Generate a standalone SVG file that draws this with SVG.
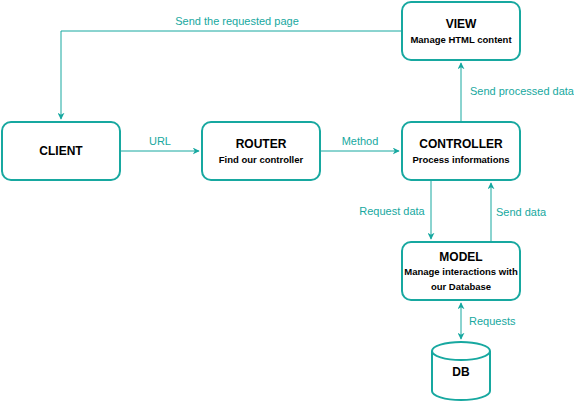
<svg xmlns="http://www.w3.org/2000/svg" width="574" height="402" viewBox="0 0 574 402">
<defs>
<marker id="ah" viewBox="0 0 10 10" refX="9" refY="5" markerWidth="7" markerHeight="7" orient="auto-start-reverse" markerUnits="userSpaceOnUse">
<path d="M0,0 L10,5 L0,10 L3,5 Z" fill="#17A8A0"/>
</marker>
</defs>
<style>
.box{fill:#fff;stroke:#17A8A0;stroke-width:2}
.edge{fill:none;stroke:#17A8A0;stroke-width:1}
.t{font-family:"Liberation Sans",Arial,sans-serif;font-weight:bold;font-size:12px;fill:#000;text-anchor:middle}
.s{font-family:"Liberation Sans",Arial,sans-serif;font-weight:bold;font-size:9.5px;fill:#000;text-anchor:middle}
.l{font-family:"Liberation Sans",Arial,sans-serif;font-size:11px;fill:#17A8A0}
</style>
<rect width="574" height="402" fill="#fff"/>
<g id="connectors">
<path class="edge" d="M121,151 H199" marker-end="url(#ah)"/>
<text class="l" x="160" y="145" text-anchor="middle">URL</text>
<path class="edge" d="M321,151 H399" marker-end="url(#ah)"/>
<text class="l" x="360" y="145" text-anchor="middle">Method</text>
<path class="edge" d="M461,121 V63" marker-end="url(#ah)"/>
<text class="l" x="470" y="95">Send processed data</text>
<path class="edge" d="M401,31 H61 V119" marker-end="url(#ah)"/>
<text class="l" x="237" y="25" text-anchor="middle">Send the requested page</text>
<path class="edge" d="M431,181 V239" marker-end="url(#ah)"/>
<text class="l" x="392" y="215" text-anchor="middle">Request data</text>
<path class="edge" d="M491,241 V183" marker-end="url(#ah)"/>
<text class="l" x="521" y="216" text-anchor="middle">Send data</text>
<path class="edge" d="M461,303 V339" marker-start="url(#ah)" marker-end="url(#ah)"/>
<text class="l" x="469" y="325">Requests</text>
</g>
<g id="client">
<rect class="box" x="2" y="122" width="118" height="58" rx="9"/>
<text class="t" x="61" y="155">CLIENT</text>
</g>
<g id="router">
<rect class="box" x="202" y="122" width="118" height="58" rx="9"/>
<text class="t" x="261" y="148">ROUTER</text>
<text class="s" x="261" y="163">Find our controller</text>
</g>
<g id="controller">
<rect class="box" x="402" y="122" width="118" height="58" rx="9"/>
<text class="t" x="461" y="148">CONTROLLER</text>
<text class="s" x="461" y="163">Process informations</text>
</g>
<g id="view">
<rect class="box" x="402" y="2" width="118" height="58" rx="9"/>
<text class="t" x="461" y="28">VIEW</text>
<text class="s" x="461" y="43">Manage HTML content</text>
</g>
<g id="model">
<rect class="box" x="402" y="242" width="118" height="58" rx="9"/>
<text class="t" x="461" y="261">MODEL</text>
<text class="s" x="461" y="275">Manage interactions with</text>
<text class="s" x="461" y="290">our Database</text>
</g>
<g id="db">
<path class="box" d="M432,351 A29,9 0 0 1 490,351 V391 A29,9 0 0 1 432,391 Z"/>
<path class="edge" style="stroke-width:2" d="M432,351 A29,9 0 0 0 490,351"/>
<text class="t" x="461" y="376">DB</text>
</g>
</svg>
